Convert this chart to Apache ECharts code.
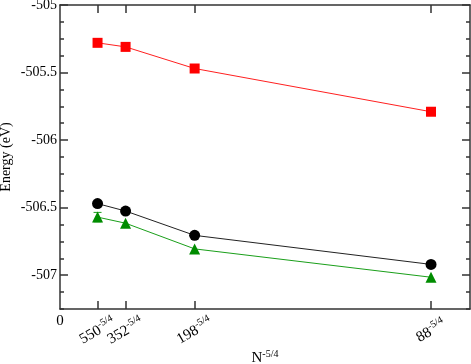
<!DOCTYPE html>
<html>
<head>
<meta charset="utf-8">
<script src="https://cdn.jsdelivr.net/npm/echarts@6/dist/echarts.min.js"></script>
<style>
  html, body { margin: 0; padding: 0; background: #fff; }
  #chart { width: 471px; height: 364px; }
</style>
</head>
<body>
<div id="chart"></div>
<script>
// N values; the x axis is N^-5/4
const nValues = [550, 352, 198, 88];
const redEnergy = [-505.28, -505.31, -505.47, -505.79];
const blackEnergy = [-506.47, -506.525, -506.705, -506.92];
const greenEnergy = [-506.57, -506.615, -506.805, -507.015];
const greenError = [0.035, 0, 0, 0];
const yTickLabels = [-507, -506.5, -506, -505.5, -505];

const xValues = nValues.map(n => Math.pow(n, -1.25));
const serif = 'Liberation Serif';
const frame = {color: '#333', width: 1.5};

const sup = {
  n: {fontSize: 15, fontFamily: serif, color: '#000'},
  s: {fontSize: 10, fontFamily: serif, color: '#000', padding: [0, 0, 9, 0]}
};

const xBase = {type: 'value', min: 0, max: 0.0041, splitLine: {show: false}};
const yBase = {type: 'value', min: -507.25, max: -505, splitLine: {show: false}};

function nearestN(v) {
  let i = 0;
  xValues.forEach((x, k) => { if (Math.abs(x - v) < Math.abs(xValues[i] - v)) i = k; });
  return nValues[i];
}

// neighbouring labels overlap a little, so they sit on two label-only axes
function labelAxis(values) {
  return {
    ...xBase,
    position: 'bottom',
    axisLine: {show: false, onZero: false},
    axisTick: {show: false},
    axisLabel: {
      customValues: values,
      rotate: 30,
      align: 'center',
      verticalAlign: 'middle',
      margin: 22,
      hideOverlap: false,
      formatter: v => '{n|' + nearestN(v) + '}{s|-5/4}',
      rich: sup
    }
  };
}

var myChart = echarts.init(document.getElementById('chart'));
myChart.setOption({
  animation: false,
  backgroundColor: '#fff',
  grid: {left: 60, right: 1, top: 5, bottom: 55, containLabel: false, outerBoundsMode: 'none'},
  xAxis: [
    {
      ...xBase,
      position: 'bottom',
      axisLine: {show: true, onZero: false, lineStyle: frame},
      axisTick: {show: true, inside: true, length: 8, customValues: xValues, lineStyle: frame},
      axisLabel: {customValues: [0], margin: 5, fontSize: 15, fontFamily: serif, color: '#000'},
      name: '{n|N}{s|-5/4}',
      nameLocation: 'middle',
      nameGap: 40,
      nameTextStyle: {rich: sup}
    },
    labelAxis(xValues.filter((x, i) => i % 2 === 0)),
    labelAxis(xValues.filter((x, i) => i % 2 === 1)),
    {
      ...xBase,
      position: 'top',
      axisLine: {show: true, onZero: false, lineStyle: frame},
      axisTick: {show: true, inside: true, length: 8, customValues: xValues, lineStyle: frame},
      axisLabel: {show: false}
    }
  ],
  yAxis: [
    {
      ...yBase,
      position: 'left',
      axisLine: {show: true, onZero: false, lineStyle: frame},
      axisTick: {show: true, inside: true, length: 8, customValues: yTickLabels, lineStyle: frame},
      axisLabel: {customValues: yTickLabels, margin: 3, fontSize: 14, fontFamily: serif, color: '#000',
        hideOverlap: false, showMinLabel: true, showMaxLabel: true,
        formatter: v => String(v)}
    },
    {
      ...yBase,
      position: 'left',
      interval: 0.125,
      axisLine: {show: false, onZero: false},
      axisTick: {show: true, inside: true, length: 4, lineStyle: frame},
      axisLabel: {show: false},
      name: 'Energy (eV)',
      nameLocation: 'middle',
      nameGap: 47,
      nameTextStyle: {fontSize: 14, fontFamily: serif, color: '#000'}
    },
    {
      ...yBase,
      position: 'right',
      axisLine: {show: true, onZero: false, lineStyle: frame},
      axisTick: {show: true, inside: true, length: 8, customValues: yTickLabels, lineStyle: frame},
      axisLabel: {show: false}
    },
    {
      ...yBase,
      position: 'right',
      interval: 0.125,
      axisLine: {show: false, onZero: false},
      axisTick: {show: true, inside: true, length: 4, lineStyle: frame},
      axisLabel: {show: false}
    }
  ],
  series: [
    {
      type: 'line',
      data: xValues.map((x, i) => [x, redEnergy[i]]),
      symbol: 'rect', symbolSize: 10,
      itemStyle: {color: '#ff0000'},
      lineStyle: {color: '#ff2020', width: 1},
      z: 3
    },
    {
      type: 'line',
      data: xValues.map((x, i) => [x, blackEnergy[i]]),
      symbol: 'circle', symbolSize: 11,
      itemStyle: {color: '#000'},
      lineStyle: {color: '#222', width: 1},
      z: 3
    },
    {
      type: 'line',
      data: xValues.map((x, i) => [x, greenEnergy[i]]),
      symbol: 'triangle', symbolSize: 11,
      itemStyle: {color: '#008c00'},
      lineStyle: {color: '#1a9f1a', width: 1},
      z: 3
    },
    {
      type: 'custom',
      data: xValues.map((x, i) => [x, greenEnergy[i], greenError[i]]),
      renderItem(params, api) {
        const e = api.value(2);
        if (!e) return null;
        const top = api.coord([api.value(0), api.value(1) + e]);
        const bot = api.coord([api.value(0), api.value(1) - e]);
        const st = {stroke: '#1a9f1a', lineWidth: 1};
        return {
          type: 'group',
          children: [
            {type: 'line', shape: {x1: top[0], y1: top[1], x2: bot[0], y2: bot[1]}, style: st},
            {type: 'line', shape: {x1: top[0] - 4, y1: top[1], x2: top[0] + 4, y2: top[1]}, style: st},
            {type: 'line', shape: {x1: bot[0] - 4, y1: bot[1], x2: bot[0] + 4, y2: bot[1]}, style: st}
          ]
        };
      },
      z: 2
    }
  ]
});
</script>
</body>
</html>
